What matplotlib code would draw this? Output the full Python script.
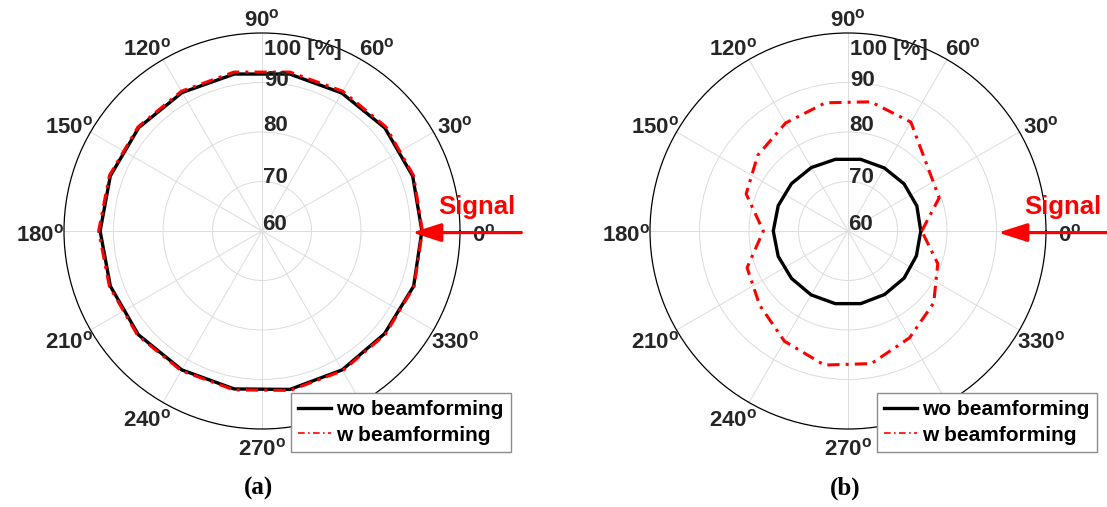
import numpy as np
import matplotlib
matplotlib.use("Agg")
import matplotlib.pyplot as plt

plt.rcParams['font.family'] = ['Liberation Sans', 'DejaVu Sans']
plt.rcParams['font.weight'] = 'bold'
plt.rcParams['mathtext.fontset'] = 'custom'
plt.rcParams['mathtext.rm'] = 'Liberation Sans:bold'
plt.rcParams['mathtext.it'] = 'Liberation Sans:bold'
plt.rcParams['mathtext.bf'] = 'Liberation Sans:bold'

# angle of arrival in degrees, efficiency in %
angles = [0, 20, 40, 60, 80, 100, 120, 140, 160, 180,
          200, 220, 240, 260, 280, 300, 320, 340]

a_wo = [92.3, 92.4, 92.4, 92.2, 92.2, 92.2, 92.3, 92.5, 92.6, 92.7,
        92.6, 92.6, 92.4, 92.4, 92.5, 92.4, 92.3, 92.6]
a_w = [92.4, 92.6, 92.7, 92.6, 92.6, 92.6, 92.6, 92.7, 92.8, 93.0,
       92.8, 92.8, 92.6, 92.6, 92.7, 92.6, 92.5, 92.7]

b_wo = [74.7, 74.8, 74.8, 74.7, 74.7, 74.7, 74.8, 74.9, 75.0, 75.1,
        75.0, 74.9, 74.9, 74.9, 74.9, 74.8, 74.8, 74.7]
b_w = [74.9, 79.6, 80.8, 85.4, 86.5, 86.3, 85.2, 83.8, 81.9, 77.1,
       81.7, 83.3, 85.7, 87.5, 87.2, 84.9, 82.6, 79.3]

r_ticks = [60, 70, 80, 90, 100]
r_labels = ['60', '70', '80', '90', '100 [%]']
r_label_pos = [61.4, 70.8, 81.3, 90.4, 96.6]
theta_ticks = [0, 30, 60, 90, 120, 150, 180, 210, 240, 270, 300, 330]

gray = '#262626'

fig = plt.figure(figsize=(11.07, 5.07), dpi=100)
ax_a = fig.add_axes([64/1107, 78/507, 396/1107, 396/507], projection='polar')
ax_b = fig.add_axes([650/1107, 78/507, 396/1107, 396/507], projection='polar')


def closed(v):
    return list(v) + [v[0]]


th = np.deg2rad(closed(angles))

for ax, wo, w, cap in [(ax_a, a_wo, a_w, '(a)'), (ax_b, b_wo, b_w, '(b)')]:
    ax.plot(th, closed(wo), color='black', lw=2.4, label='wo beamforming', zorder=3)
    ax.plot(th, closed(w), color='red', lw=2.2, dashes=(4, 2, 1, 2),
            label='w beamforming', zorder=4)

    ax.set_rlim(60, 100)
    ax.set_rticks(r_ticks[1:-1])
    ax.set_yticklabels([])
    ax.set_thetagrids(theta_ticks, [''] * len(theta_ticks))
    ax.grid(color='#dcdcdc', lw=0.7)
    ax.spines['polar'].set_linewidth(0.9)
    ax.spines['polar'].set_color('black')

    # angle labels just outside the rim
    for t in theta_ticks:
        a = np.deg2rad(t)
        c, s = np.cos(a), np.sin(a)
        xo = 0.54 * c + (0.02 * np.sign(c) if abs(c) > 0.01 else 0)
        ax.text(0.5 + xo, 0.5 + 0.542 * s - 0.010,
                r'$\mathrm{%d^{o}}$' % t, transform=ax.transAxes,
                ha='center', va='center', fontsize=16, color=gray)

    for pos, lab in zip(r_label_pos, r_labels):
        ax.text(np.pi/2 - 0.012, pos, lab, ha='left', va='center',
                fontsize=16, color=gray, fontweight='bold', zorder=5)

    leg = ax.legend(loc='upper left', bbox_to_anchor=(0.572, 0.091),
                    borderaxespad=0, fancybox=False, framealpha=1,
                    edgecolor='#8c8c8c', handlelength=1.6,
                    handletextpad=0.25, labelspacing=0.3, borderpad=0.35,
                    prop={'weight': 'bold', 'size': 15})
    leg.get_frame().set_linewidth(1.0)
    leg.get_lines()[1].set_linewidth(1.2)
    leg.get_lines()[1].set_dashes((4, 2, 1, 2))

    # incoming signal direction
    ax.annotate('', xy=(0.879, 0.496), xytext=(1.155, 0.496),
                xycoords='axes fraction', textcoords='axes fraction',
                arrowprops=dict(arrowstyle='-|>,head_length=1.1,head_width=0.35',
                                color='red', lw=2.3, mutation_scale=16,
                                shrinkA=0, shrinkB=0),
                annotation_clip=False)
    ax.text(1.043, 0.561, 'Signal', transform=ax.transAxes, color='red',
            fontsize=18.5, fontweight='bold', ha='center', va='center')

    ax.text(0.492, -0.15, cap, transform=ax.transAxes, ha='center', va='center',
            fontsize=18, fontweight='bold', family='Liberation Serif')

fig.savefig('out.png', dpi=100)
